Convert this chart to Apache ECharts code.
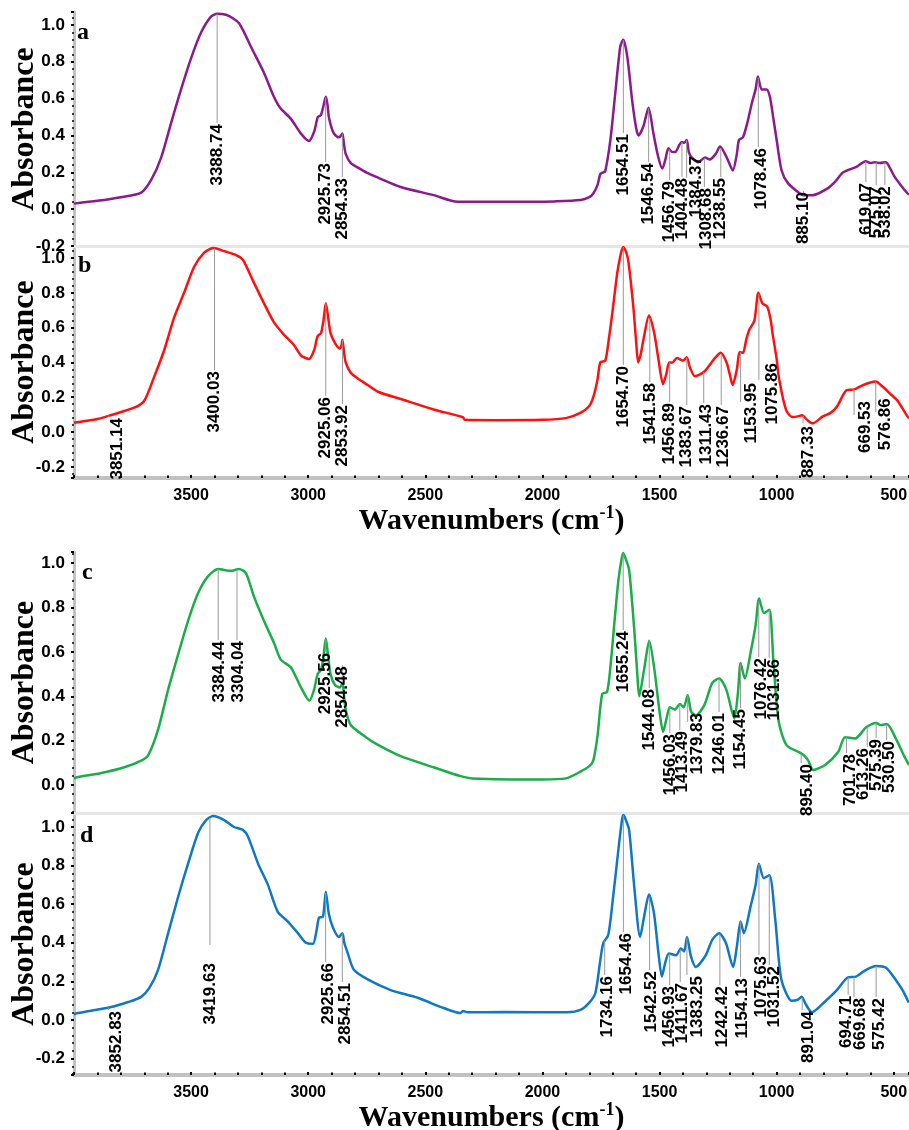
<!DOCTYPE html>
<html><head><meta charset="utf-8">
<script src="https://cdn.jsdelivr.net/npm/echarts@6/dist/echarts.min.js"></script>
<style>html,body{margin:0;padding:0;background:#fff}#c{width:909px;height:1130px}</style>
</head><body><div id="c"></div>
<script>
// ---------- data (wavenumber cm-1, absorbance) ----------
const waveA = [4000,3900,3800,3713,3670,3628,3585,3543,3500,3457,3415,3389,3351,3320,3296,3270,3244,3189,3150,3120,3074,3031,2997,2975,2959,2946,2935,2925,2918,2912,2900,2890,2869,2860,2854,2848,2840,2818,2780,2746,2700,2605,2465,2362,2200,2039,1950,1838,1800,1783,1765,1753,1740,1732,1710,1689,1668,1655,1638,1617,1600,1590,1569,1547,1526,1505,1488,1475,1462,1445,1433,1415,1405,1395,1384,1375,1362,1334,1306,1285,1260,1242,1213,1187,1170,1161,1144,1125,1106,1090,1080,1064,1043,1029,1015,1000,979,951,901,885,846,786,750,716,659,620,600,581,560,534,515,496,470,441,435];
const absA  = [0.03,0.045,0.065,0.09,0.16,0.28,0.47,0.65,0.82,0.96,1.045,1.06,1.055,1.035,1.01,0.95,0.88,0.74,0.62,0.55,0.49,0.41,0.37,0.42,0.50,0.51,0.56,0.61,0.57,0.50,0.44,0.41,0.39,0.40,0.41,0.36,0.30,0.25,0.22,0.195,0.17,0.12,0.076,0.04,0.04,0.04,0.042,0.05,0.065,0.085,0.13,0.19,0.20,0.205,0.375,0.63,0.88,0.92,0.83,0.59,0.44,0.40,0.45,0.55,0.41,0.28,0.22,0.27,0.33,0.31,0.31,0.35,0.365,0.36,0.375,0.31,0.28,0.255,0.28,0.27,0.30,0.34,0.28,0.21,0.30,0.375,0.39,0.47,0.575,0.65,0.72,0.65,0.65,0.61,0.50,0.375,0.21,0.14,0.085,0.075,0.076,0.11,0.15,0.20,0.23,0.26,0.25,0.255,0.25,0.255,0.22,0.175,0.13,0.085,0.08];

const waveB = [4000,3900,3841,3743,3700,3657,3615,3572,3530,3487,3445,3406,3359,3308,3279,3236,3189,3146,3104,3061,3031,2997,2975,2960,2945,2935,2925,2917,2905,2885,2865,2858,2854,2848,2840,2818,2780,2746,2700,2605,2465,2340,2330,2200,2000,1900,1838,1800,1783,1765,1753,1732,1718,1702,1681,1666,1655,1644,1633,1612,1600,1591,1580,1569,1545,1523,1505,1485,1470,1459,1445,1426,1400,1384,1370,1349,1330,1316,1300,1278,1260,1239,1214,1200,1188,1170,1158,1144,1130,1116,1095,1078,1061,1040,1025,1018,1000,989,960,934,910,892,870,846,803,770,743,702,669,632,600,577,547,515,487,460,440,435];
const absB  = [0.053,0.075,0.098,0.14,0.18,0.32,0.47,0.66,0.80,0.95,1.03,1.057,1.04,1.017,0.99,0.87,0.74,0.63,0.56,0.50,0.44,0.42,0.47,0.55,0.57,0.64,0.74,0.68,0.57,0.51,0.48,0.50,0.53,0.47,0.40,0.34,0.30,0.27,0.23,0.19,0.13,0.085,0.07,0.068,0.07,0.08,0.11,0.15,0.20,0.30,0.40,0.41,0.52,0.68,0.91,1.02,1.063,1.04,0.98,0.72,0.52,0.40,0.45,0.53,0.67,0.57,0.42,0.275,0.34,0.40,0.40,0.425,0.41,0.43,0.37,0.32,0.33,0.34,0.36,0.40,0.43,0.455,0.40,0.33,0.27,0.36,0.46,0.455,0.53,0.59,0.64,0.80,0.74,0.72,0.64,0.57,0.42,0.30,0.127,0.087,0.09,0.097,0.07,0.05,0.09,0.11,0.145,0.24,0.245,0.27,0.285,0.29,0.26,0.22,0.185,0.13,0.087,0.08];

const waveC = [4000,3983,3883,3785,3713,3683,3641,3598,3555,3513,3470,3428,3385,3330,3296,3266,3232,3189,3146,3117,3074,3031,2995,2975,2960,2945,2935,2925,2917,2905,2885,2865,2854,2846,2838,2818,2746,2700,2605,2465,2350,2300,2000,1900,1838,1800,1783,1765,1745,1724,1710,1698,1676,1662,1655,1645,1630,1608,1595,1587,1566,1544,1522,1500,1485,1470,1456,1435,1413,1397,1380,1365,1344,1309,1275,1246,1215,1181,1165,1154,1136,1109,1090,1075,1054,1031,1014,992,958,899,880,865,844,793,737,708,665,618,575,556,530,487,460,440,435];
const absC  = [0.03,0.036,0.054,0.08,0.11,0.135,0.25,0.43,0.59,0.74,0.865,0.94,0.973,0.965,0.973,0.955,0.85,0.74,0.64,0.565,0.53,0.44,0.38,0.43,0.50,0.52,0.58,0.66,0.60,0.50,0.45,0.44,0.46,0.39,0.33,0.27,0.21,0.18,0.13,0.08,0.04,0.03,0.025,0.03,0.06,0.085,0.11,0.22,0.41,0.42,0.53,0.67,0.92,1.02,1.045,1.02,0.97,0.70,0.50,0.40,0.52,0.65,0.52,0.33,0.24,0.30,0.35,0.34,0.365,0.35,0.405,0.33,0.315,0.36,0.46,0.48,0.43,0.30,0.42,0.55,0.48,0.61,0.72,0.84,0.775,0.79,0.56,0.29,0.18,0.145,0.13,0.11,0.068,0.09,0.15,0.215,0.21,0.26,0.28,0.27,0.275,0.20,0.14,0.10,0.09];

const waveD = [4000,3983,3841,3769,3713,3679,3641,3598,3555,3513,3470,3436,3406,3359,3317,3279,3257,3214,3172,3130,3087,3044,3010,2980,2965,2954,2937,2925,2912,2895,2869,2854,2846,2831,2805,2746,2648,2533,2422,2350,2338,2320,2166,1894,1838,1800,1774,1753,1740,1719,1698,1676,1660,1654,1645,1630,1608,1583,1566,1545,1524,1505,1490,1475,1460,1430,1409,1395,1383,1366,1345,1303,1275,1246,1217,1186,1170,1154,1140,1112,1090,1076,1055,1031,1006,980,936,910,894,875,850,790,743,697,661,618,575,532,487,460,440,435];
const absD  = [0.03,0.036,0.067,0.093,0.12,0.165,0.26,0.45,0.64,0.81,0.97,1.036,1.057,1.036,1.0,0.985,0.95,0.81,0.70,0.56,0.51,0.45,0.40,0.395,0.46,0.53,0.535,0.665,0.55,0.48,0.43,0.45,0.40,0.345,0.26,0.21,0.155,0.115,0.062,0.036,0.047,0.04,0.041,0.04,0.052,0.09,0.14,0.31,0.40,0.44,0.64,0.88,1.04,1.062,1.04,0.985,0.69,0.43,0.535,0.65,0.555,0.35,0.225,0.30,0.345,0.335,0.37,0.355,0.43,0.33,0.275,0.335,0.415,0.45,0.40,0.275,0.38,0.51,0.45,0.585,0.70,0.81,0.735,0.75,0.52,0.21,0.10,0.105,0.12,0.08,0.04,0.10,0.155,0.22,0.225,0.26,0.28,0.27,0.20,0.15,0.10,0.09];

// peak labels (wavenumbers)
const peaksA = [3388.74,2925.73,2854.33,1654.51,1546.54,1456.79,1404.48,1384.37,1308.68,1238.55,1078.46,885.10,619.07,575.07,538.02];
const peaksB = [3851.14,3400.03,2925.06,2853.92,1654.70,1541.58,1456.89,1383.67,1311.43,1236.67,1153.95,1075.86,887.33,669.53,576.86];
const peaksC = [3384.44,3304.04,2925.56,2854.48,1655.24,1544.08,1456.03,1413.49,1379.83,1246.01,1154.45,1076.42,1031.86,895.40,701.78,613.26,575.39,530.50];
const peaksD = [3852.83,3419.63,2925.66,2854.51,1734.16,1654.46,1542.52,1456.93,1411.67,1383.25,1242.42,1154.13,1075.63,1031.52,891.04,694.71,669.68,575.42];

// label layout: [text top (absorbance units), leader end (null = text top), x shift px]
const layoutA = [[0.467,null,0],[0.255,null,0],[0.174,null,0],[0.413,null,0],[0.255,null,0],[0.158,null,0],[0.174,null,0],[0.293,0.17,10],[0.12,null,2],[0.174,null,0],[0.337,null,3],[0.098,null,0],[0.147,null,0],[0.13,null,0],[0.13,null,0]];
const layoutB = [[0.086,null,8],[0.356,null,0],[0.207,null,0],[0.161,null,0],[0.385,null,0],[0.287,null,0],[0.172,null,0],[0.155,null,0],[0.167,null,3],[0.155,null,2],[0.287,0.172,11],[0.402,0.30,13],[0.04,0.05,5],[0.184,0.098,11],[0.20,0.115,10]];
const layoutC = [[0.653,null,1],[0.653,null,1],[0.60,null,0],[0.54,null,0],[0.698,null,0],[0.437,null,0],[0.234,null,0],[0.248,null,2],[0.329,0.284,10],[0.329,null,0],[0.347,null,0],[0.577,null,3],[0.572,null,5],[0.099,null,6],[0.144,null,4],[0.171,null,-4],[0.212,null,0],[0.203,null,3]];
const layoutD = [[0.052,null,8],[0.30,0.389,0],[0.30,null,3],[0.197,null,3],[0.233,null,3],[0.456,null,3],[0.259,null,2],[0.181,null,0],[0.197,null,2],[0.233,null,10],[0.181,null,2],[0.223,null,2],[0.337,null,2],[0.285,null,5],[0.052,null,6],[0.13,null,-2],[0.119,null,6],[0.119,null,3]];

const panelLetters = ['a','b','c','d'];

// ---------- layout ----------
const panels = [
  {color:'#8b1a8b', top:12,  height:234, min:-0.2,   max:1.07,   wave:waveA, abs:absA, peaks:peaksA, layout:layoutA, showX:false, lx:77, ly:33},
  {color:'#ff1010', top:246, height:232, min:-0.264, max:1.069,  wave:waveB, abs:absB, peaks:peaksB, layout:layoutB, showX:true,  lx:78, ly:266},
  {color:'#1aad4a', top:552, height:261, min:-0.126, max:1.05,   wave:waveC, abs:absC, peaks:peaksC, layout:layoutC, showX:false, lx:82, ly:573},
  {color:'#0f78c2', top:813, height:262, min:-0.285, max:1.0725, wave:waveD, abs:absD, peaks:peaksD, layout:layoutD, showX:true,  lx:80, ly:836}
];

function interp(wave, abs, w){
  for (let i=0;i<wave.length-1;i++){
    if (w<=wave[i] && w>=wave[i+1]){
      const t=(wave[i]-w)/(wave[i]-wave[i+1]);
      return abs[i]+(abs[i+1]-abs[i])*t;
    }
  }
  return abs[abs.length-1];
}

const isMult = (v, step) => Math.abs(v/step - Math.round(v/step)) < 1e-6;
const titleRich = {
  a:{fontFamily:'Liberation Serif', fontWeight:'bold', fontSize:30, color:'#000', lineHeight:34},
  s:{fontFamily:'Liberation Serif', fontWeight:'bold', fontSize:18, color:'#000', lineHeight:18, verticalAlign:'top'}
};

const grid=[], xAxis=[], yAxis=[], series=[], graphic=[];
panels.forEach((p,i)=>{
  grid.push({left:74, right:0, top:p.top, height:p.height, containLabel:false, outerBoundsMode:'none'});
  xAxis.push({
    type:'value', gridIndex:i, inverse:true, min:435, max:4000, splitNumber:7, minInterval:500, maxInterval:500,
    splitLine:{show:false},
    axisLine:{show:true, onZero:false, lineStyle:{color: p.showX ? '#c2c2c2' : '#e6e6e6', width: p.showX ? 4 : 3}},
    axisTick:{show:p.showX, inside:true, length:3, lineStyle:{color:'#000', width:2}},
    minorTick:{show:p.showX, splitNumber:5, length:2.5, lineStyle:{color:'#000', width:2}},
    axisLabel:{show:p.showX, margin:10, color:'#000', fontFamily:'Liberation Sans', fontWeight:'bold', fontSize:16,
      formatter: v => (isMult(v,500) && v<4000 && v>=500) ? String(v) : ''},
    name: p.showX ? '{a|Wavenumbers (cm}{s|-1}{a|)}' : '',
    nameLocation:'middle', nameGap:26, nameMoveOverlap:false,
    nameTextStyle:{rich:titleRich}
  });
  yAxis.push({
    type:'value', gridIndex:i, min:p.min, max:p.max, splitNumber:6, minInterval:0.2, maxInterval:0.2,
    splitLine:{show:false},
    axisLine:{show:true, lineStyle:{color:'#c2c2c2', width:3}},
    axisTick:{show:true, inside:false, length:3, lineStyle:{color:'#000', width:2}},
    minorTick:{show:true, splitNumber:5, length:2, lineStyle:{color:'#000', width:1.5}},
    axisLabel:{margin:9, color:'#000', fontFamily:'Liberation Sans', fontWeight:'bold', fontSize:17,
      formatter: v => isMult(v,0.2) ? (Math.abs(v)<1e-9 ? '0.0' : v.toFixed(1)) : ''},
    name:'Absorbance', nameLocation:'middle', nameRotate:90, nameGap:33, nameMoveOverlap:false,
    nameTextStyle:{fontFamily:'Liberation Serif', fontWeight:'bold', fontSize:32, color:'#000'}
  });
  series.push({
    type:'line', xAxisIndex:i, yAxisIndex:i, showSymbol:false, smooth:0.25, silent:true,
    lineStyle:{color:p.color, width:2.5}, itemStyle:{color:p.color},
    data: p.wave.map((w,k)=>[w, p.abs[k]]), z:2
  });
  series.push({
    type:'custom', xAxisIndex:i, yAxisIndex:i, clip:false, silent:true, z:3,
    data: p.peaks.map((w,k)=>[w, p.layout[k][0]]),
    encode:{x:0, y:1},
    renderItem:(params, api)=>{
      const k = params.dataIndex;
      const w = p.peaks[k];
      const [top, lineEnd, dx] = p.layout[k];
      const yc = interp(p.wave, p.abs, w);
      const pc = api.coord([w, yc]);
      const pe = api.coord([w, lineEnd==null ? top : lineEnd]);
      const pt = api.coord([w, top]);
      return {type:'group', children:[
        {type:'line', shape:{x1:pc[0], y1:pc[1], x2:pe[0], y2:pe[1]}, style:{stroke:'#999', lineWidth:1}},
        {type:'text', x:pt[0]+dx, y:pt[1]+1, rotation:Math.PI/2,
          style:{text:w.toFixed(2), align:'right', verticalAlign:'middle', fill:'#000',
            fontFamily:'Liberation Sans', fontWeight:'bold', fontSize:17}}
      ]};
    }
  });
  graphic.push({type:'text', x:p.lx, y:p.ly, style:{text:panelLetters[i], verticalAlign:'middle', fill:'#000',
    fontFamily:'Liberation Serif', fontWeight:'bold', fontSize:24}});
});

const chart = echarts.init(document.getElementById('c'), null, {renderer:'canvas'});
chart.setOption({animation:false, backgroundColor:'#fff', grid, xAxis, yAxis, series, graphic});
</script></body></html>
